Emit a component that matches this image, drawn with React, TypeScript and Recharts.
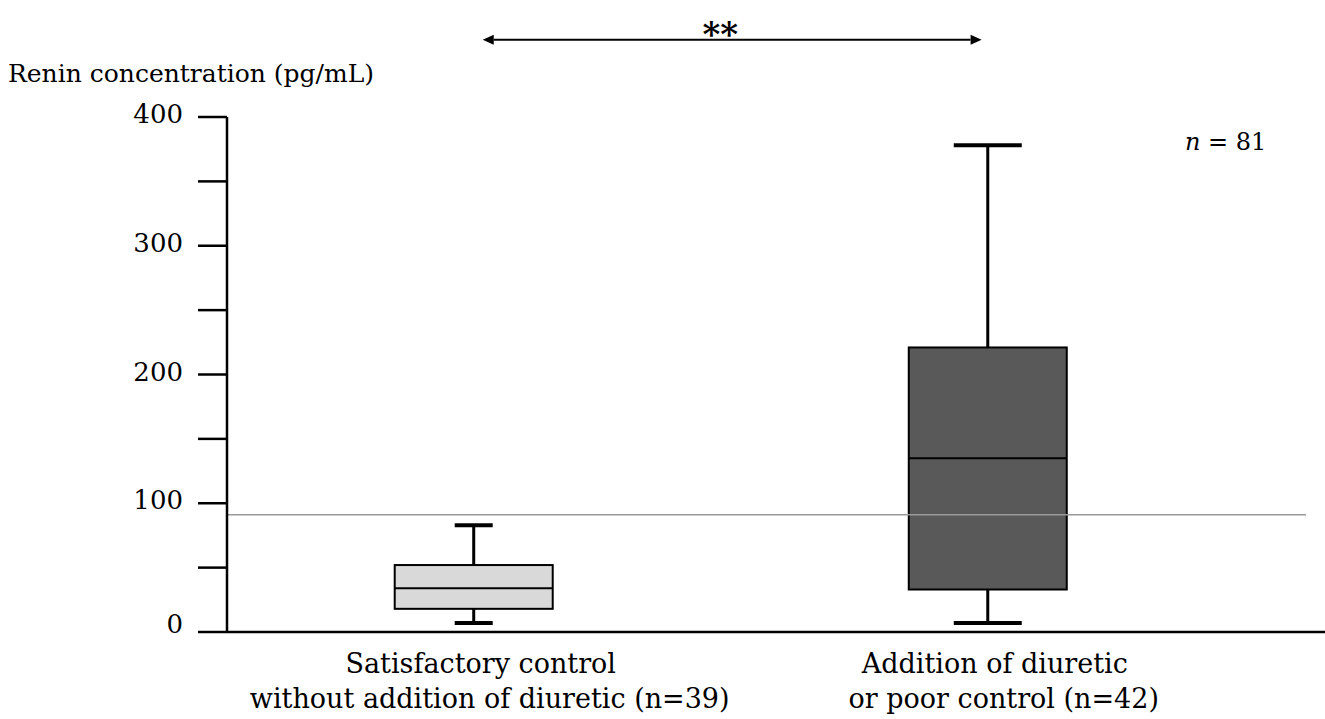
import { ComposedChart, Bar, XAxis, YAxis, ReferenceLine } from 'recharts'

// Renin concentration by treatment group (pg/mL)
const groupX = [1, 2]
const labelTop = ['Satisfactory control', 'Addition of diuretic']
const labelBottom = ['without addition of diuretic (n=39)', 'or poor control (n=42)']
const mins = [7, 7]
const q1s = [18, 33]
const medians = [34, 135]
const q3s = [52, 221]
const maxs = [83, 378]

const yTicks = [0, 50, 100, 150, 200, 250, 300, 350, 400]
const cutoff = 91
const sigLevel = 460

// per-box look
const boxFills = ['#d9d9d9', '#595959']
const capWidths = [38, 68]

const FONT = '"DejaVu Serif", serif'

const data = groupX.map((x, i) => ({
  x,
  min: mins[i],
  q1: q1s[i],
  median: medians[i],
  q3: q3s[i],
  max: maxs[i],
  range: [mins[i], maxs[i]],
}))

const BoxShape = (props: any) => {
  const { x, y, width, height, payload, index } = props
  const top = Math.min(y, y + height)
  const span = Math.abs(height)
  const { min, max, q1, q3, median } = payload
  const toY = (v: number) => top + (span * (max - v)) / (max - min)
  const cx = x + width / 2
  const cap = capWidths[index] / 2
  return (
    <g>
      <line x1={cx} x2={cx} y1={toY(max)} y2={toY(min)} stroke="#000" strokeWidth={3} />
      <line x1={cx - cap} x2={cx + cap} y1={toY(max)} y2={toY(max)} stroke="#000" strokeWidth={4} />
      <line x1={cx - cap} x2={cx + cap} y1={toY(min)} y2={toY(min)} stroke="#000" strokeWidth={4} />
      <rect
        x={x}
        y={toY(q3)}
        width={width}
        height={toY(q1) - toY(q3)}
        fill={boxFills[index]}
        stroke="#000"
        strokeWidth={2}
      />
      <line x1={x} x2={x + width} y1={toY(median)} y2={toY(median)} stroke="#000" strokeWidth={2} />
    </g>
  )
}

const YTick = (props: any) => {
  const { x, y, payload } = props
  if (payload.value % 100 !== 0) return <g />
  const lift = payload.value === 0 ? -8 : -3
  return (
    <text x={x} y={y + lift} dy="0.35em" textAnchor="end" fontFamily={FONT} fontSize={26} fill="#000">
      {payload.value}
    </text>
  )
}

const GroupTick = (props: any) => {
  const { x, y, payload } = props
  const i = groupX.indexOf(payload.value)
  if (i < 0) return <g />
  return (
    <g fontFamily={FONT} fontSize={27} fill="#000">
      <text x={x + 7} y={y + 41} textAnchor="middle">{labelTop[i]}</text>
      <text x={x + 16} y={y + 76} textAnchor="middle">{labelBottom[i]}</text>
    </g>
  )
}

const SigArrow = (props: any) => {
  const { x1, y1, x2 } = props
  const len = 11
  const h = 5
  return (
    <g>
      <line x1={x1 + len} x2={x2 - len} y1={y1} y2={y1} stroke="#000" strokeWidth={2} />
      <polygon points={`${x1},${y1} ${x1 + len},${y1 - h} ${x1 + len},${y1 + h}`} fill="#000" />
      <polygon points={`${x2},${y1} ${x2 - len},${y1 - h} ${x2 - len},${y1 + h}`} fill="#000" />
      <text
        x={(x1 + x2) / 2 - 12}
        y={y1 + 6}
        textAnchor="middle"
        fontFamily={FONT}
        fontSize={34}
        fontWeight="bold"
        fill="#000"
      >
        **
      </text>
    </g>
  )
}

export default function App() {
  return (
    <div style={{ position: 'absolute', left: 0, top: 0, width: 1325, height: 719, background: '#fff' }}>
      <ComposedChart
        width={1325}
        height={719}
        data={data}
        margin={{ top: 117, right: 0, bottom: 7, left: 0 }}
      >
        <XAxis
          type="number"
          dataKey="x"
          domain={[0.52, 2.656]}
          ticks={groupX}
          allowDataOverflow
          height={80}
          axisLine={{ stroke: '#000', strokeWidth: 2.5 }}
          tickLine={false}
          tickSize={0}
          tickMargin={0}
          tick={<GroupTick />}
        />
        <YAxis
          type="number"
          domain={[0, 400]}
          ticks={yTicks}
          interval={0}
          width={227}
          allowDataOverflow
          axisLine={{ stroke: '#000', strokeWidth: 2.5 }}
          tickLine={{ stroke: '#000', strokeWidth: 2.5 }}
          tickSize={29}
          tickMargin={15}
          tick={<YTick />}
        />
        <ReferenceLine
          segment={[
            { x: 0.52, y: cutoff },
            { x: 2.619, y: cutoff },
          ]}
          stroke="#999"
          strokeWidth={1.5}
          ifOverflow="visible"
        />
        <Bar dataKey="range" barSize={158} shape={<BoxShape />} isAnimationActive={false} />
        <ReferenceLine
          segment={[
            { x: 1.0175, y: sigLevel },
            { x: 1.988, y: sigLevel },
          ]}
          ifOverflow="visible"
          shape={<SigArrow />}
        />
      </ComposedChart>
      <svg
        width={1325}
        height={719}
        style={{ position: 'absolute', left: 0, top: 0, pointerEvents: 'none' }}
      >
        <text x={8} y={82} fontFamily={FONT} fontSize={25} fill="#000">
          Renin concentration (pg/mL)
        </text>
        <text x={1185} y={150} fontFamily={FONT} fontSize={24} fill="#000">
          <tspan fontStyle="italic">n</tspan> = 81
        </text>
      </svg>
    </div>
  )
}
